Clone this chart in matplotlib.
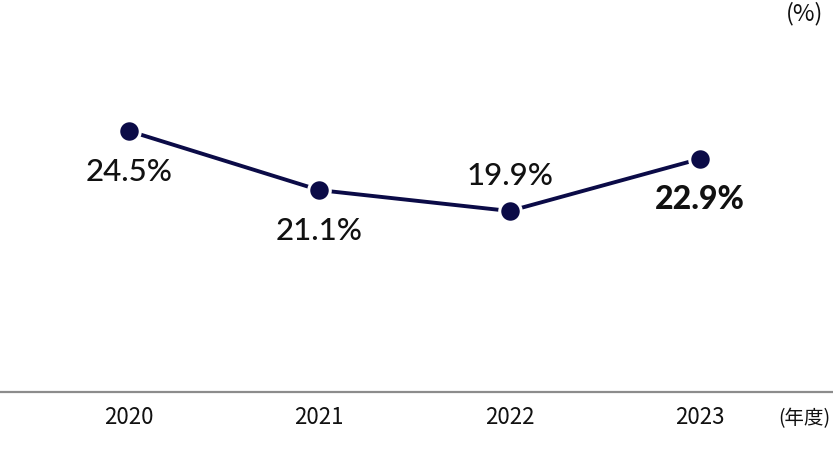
import matplotlib
matplotlib.use("Agg")
import matplotlib.pyplot as plt

years = ["2020", "2021", "2022", "2023"]
values = [24.5, 21.1, 19.9, 22.9]
labels = ["24.5%", "21.1%", "19.9%", "22.9%"]
label_below = [True, True, False, True]
label_bold = [False, False, False, True]

navy = "#0b0b47"
W, H = 833, 453
fig = plt.figure(figsize=(W / 100, H / 100), dpi=100)
ax = fig.add_axes([0, (H - 392) / H, 1, 392 / H])

x = list(range(len(years)))
ax.plot(x, values, color=navy, lw=2.8, marker="o", ms=15.5,
        markerfacecolor=navy, markeredgecolor="white", markeredgewidth=2.2,
        solid_capstyle="butt", zorder=3, clip_on=False)

# map: 129px -> x=0, 700px -> x=3
sx = (700 - 129) / 3
ax.set_xlim(0 - 129 / sx, 3 + (W - 700) / sx)
sy = (211 - 131) / (24.5 - 19.9)
ax.set_ylim(19.9 - (392 - 211) / sy, 24.5 + 131 / sy)

for xi, v, lab, below, bold in zip(x, values, labels, label_below, label_bold):
    dy = -50 if below else 26
    ax.annotate(lab, (xi, v), xytext=(0, dy), textcoords="offset pixels",
                ha="center", va="baseline", fontsize=23 if bold else 22.5,
                family=["Lato", "DejaVu Sans"],
                fontweight="black" if bold else "medium", color="#111111")

for s in ["top", "right", "left"]:
    ax.spines[s].set_visible(False)
ax.spines["bottom"].set_color("#8c8c8c")
ax.spines["bottom"].set_linewidth(1.6)
ax.set_yticks([])
ax.set_xticks(x)
ax.set_xticklabels(years, family=["Noto Sans CJK JP", "DejaVu Sans"],
                   fontsize=16, color="#111111")
ax.tick_params(axis="x", length=0, pad=10)

fig.text(830 / W, 1 - 419 / H, "(年度)", ha="right", va="center",
         family=["Noto Sans CJK JP", "DejaVu Sans"], fontsize=14, color="#111111")
fig.text(823 / W, 1 - 14 / H, "(%)", ha="right", va="center",
         family=["Noto Sans CJK JP", "DejaVu Sans"], fontsize=17, color="#111111")

fig.savefig("out.png", dpi=100)
